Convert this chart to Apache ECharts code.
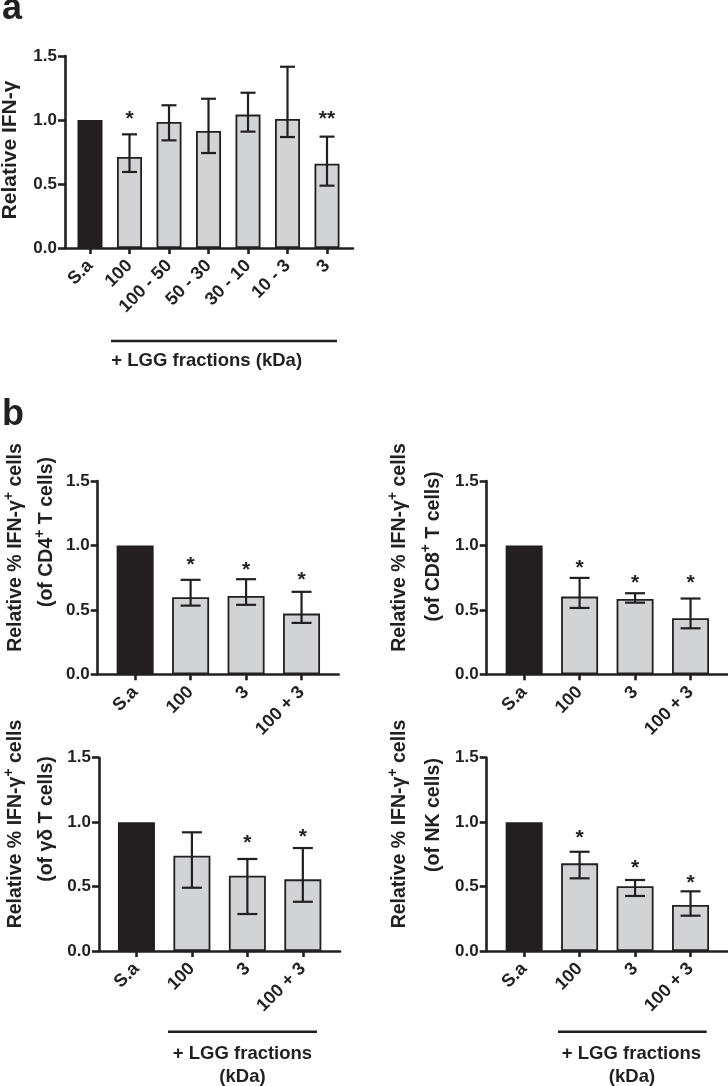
<!DOCTYPE html>
<html><head><meta charset="utf-8">
<script src="https://cdn.jsdelivr.net/npm/echarts@6/dist/echarts.min.js"></script>
<style>html,body{margin:0;padding:0;background:#fff}#c{width:728px;height:1086px}</style>
</head><body><div id="c"></div>
<script>
// ---------- data ----------
const catsA = ['S.a', '100', '100 - 50', '50 - 30', '30 - 10', '10 - 3', '3'];
const meanA = [1.0, 0.711, 0.984, 0.914, 1.042, 1.008, 0.659];
const lowA  = [null, 0.594, 0.841, 0.742, 0.909, 0.867, 0.487];
const highA = [null, 0.888, 1.115, 1.166, 1.213, 1.416, 0.870];
const sigA  = ['', '*', '', '', '', '', '**'];
const sigYA = [null, 1.055, null, null, null, null, 1.055];

const catsB = ['S.a', '100', '3', '100 + 3'];
const meanCD4 = [1.0, 0.598, 0.608, 0.471];
const lowCD4  = [null, 0.533, 0.539, 0.399];
const highCD4 = [null, 0.733, 0.738, 0.640];
const sigCD4  = ['', '*', '*', '*'];
const sigYCD4 = [null, 0.894, 0.855, 0.779];

const meanCD8 = [1.0, 0.603, 0.585, 0.435];
const lowCD8  = [null, 0.515, 0.556, 0.357];
const highCD8 = [null, 0.748, 0.629, 0.588];
const sigCD8  = ['', '*', '*', '*'];
const sigYCD8 = [null, 0.870, 0.751, 0.751];

const meanGD = [1.0, 0.739, 0.584, 0.556];
const lowGD  = [null, 0.491, 0.287, 0.382];
const highGD = [null, 0.921, 0.714, 0.799];
const sigGD  = ['', '', '*', '*'];
const sigYGD = [null, null, 0.882, 0.926];

const meanNK = [1.0, 0.680, 0.502, 0.357];
const lowNK  = [null, 0.564, 0.427, 0.274];
const highNK = [null, 0.770, 0.551, 0.463];
const sigNK  = ['', '*', '*', '*'];
const sigYNK = [null, 0.918, 0.690, 0.576];

// ---------- style ----------
const FONT = '"Liberation Sans", Arial, Helvetica, sans-serif';
const INK = '#231f20';
const GREY = '#d1d3d4';

const panels = [
  {cats: catsA, mean: meanA, low: lowA, high: highA, sig: sigA, sigY: sigYA,
   grid: {left: 65, top: 56, width: 288, height: 192}, xmin: -0.633, xmax: 6.658, barW: 25, cap: 15},
  {cats: catsB, mean: meanCD4, low: lowCD4, high: highCD4, sig: sigCD4, sigY: sigYCD4,
   grid: {left: 97.7, top: 481, width: 241, height: 193.3}, xmin: -0.675, xmax: 3.67, barW: 37, cap: 20},
  {cats: catsB, mean: meanCD8, low: lowCD8, high: highCD8, sig: sigCD8, sigY: sigYCD8,
   grid: {left: 486.7, top: 481, width: 241, height: 193.3}, xmin: -0.675, xmax: 3.67, barW: 37, cap: 20},
  {cats: catsB, mean: meanGD, low: lowGD, high: highGD, sig: sigGD, sigY: sigYGD,
   grid: {left: 99, top: 757.7, width: 241, height: 193.3}, xmin: -0.675, xmax: 3.67, barW: 37, cap: 20},
  {cats: catsB, mean: meanNK, low: lowNK, high: highNK, sig: sigNK, sigY: sigYNK,
   grid: {left: 486.7, top: 757.7, width: 241, height: 193.3}, xmin: -0.675, xmax: 3.67, barW: 37, cap: 20}
];

const grids = [], xAxes = [], yAxes = [], series = [];
panels.forEach((p, i) => {
  const idx = p.cats.map((c, k) => k);
  grids.push(Object.assign({containLabel: false, outerBoundsMode: 'none'}, p.grid));
  xAxes.push({
    gridIndex: i, type: 'value', min: p.xmin, max: p.xmax,
    axisLine: {show: true, onZero: false, lineStyle: {color: INK, width: 2.6}},
    axisTick: {show: true, length: 6, customValues: idx, lineStyle: {color: INK, width: 2.6}},
    axisLabel: {customValues: idx, rotate: 45, margin: 15, formatter: v => p.cats[Math.round(v)],
      color: INK, fontFamily: FONT, fontWeight: 'bold', fontSize: 18},
    splitLine: {show: false}
  });
  yAxes.push({
    gridIndex: i, type: 'value', min: 0, max: 1.5, interval: 0.5,
    axisLine: {show: true, onZero: false, lineStyle: {color: INK, width: 2.6}},
    axisTick: {show: true, length: 7, lineStyle: {color: INK, width: 2.6}},
    axisLabel: {color: INK, fontFamily: FONT, fontWeight: 'bold', fontSize: 17, margin: 8,
      formatter: v => v.toFixed(1)},
    splitLine: {show: false}
  });
  series.push({
    type: 'bar', xAxisIndex: i, yAxisIndex: i, barWidth: p.barW, z: 2,
    data: p.mean.map((v, k) => [k, v]),
    itemStyle: {color: prm => prm.dataIndex === 0 ? INK : GREY, borderColor: INK, borderWidth: 1.8},
    silent: true, animation: false
  });
  const errData = [];
  p.low.forEach((l, k) => { if (l != null) errData.push([k, l, p.high[k]]); });
  series.push({
    type: 'custom', xAxisIndex: i, yAxisIndex: i, z: 5, silent: true, animation: false,
    data: errData, encode: {x: 0, y: [1, 2]},
    renderItem: (params, api) => {
      const x = api.value(0), lo = api.value(1), hi = api.value(2);
      const a = api.coord([x, hi]), b = api.coord([x, lo]);
      const h = p.cap / 2;
      const st = {stroke: INK, lineWidth: 2.2};
      return {type: 'group', children: [
        {type: 'line', shape: {x1: a[0], y1: a[1], x2: b[0], y2: b[1]}, style: st},
        {type: 'line', shape: {x1: a[0] - h, y1: a[1], x2: a[0] + h, y2: a[1]}, style: st},
        {type: 'line', shape: {x1: b[0] - h, y1: b[1], x2: b[0] + h, y2: b[1]}, style: st}
      ]};
    }
  });
  const sigData = [];
  p.sig.forEach((s, k) => { if (s) sigData.push([k, p.sigY[k]]); });
  series.push({
    type: 'custom', xAxisIndex: i, yAxisIndex: i, z: 6, silent: true, animation: false,
    data: sigData, encode: {x: 0, y: 1},
    renderItem: (params, api) => {
      const k = api.value(0);
      const pt = api.coord([k, api.value(1)]);
      return {type: 'text', x: pt[0], y: pt[1] + 6,
        style: {text: p.sig[k], fill: INK, font: 'bold 21px ' + FONT, align: 'center', verticalAlign: 'middle'}};
    }
  });
});

// ---------- texts ----------
const supRich = {
  n: {fontFamily: FONT, fontWeight: 'bold', fontSize: 19.5, color: INK, lineHeight: 24, verticalAlign: 'bottom'},
  s: {fontFamily: FONT, fontWeight: 'bold', fontSize: 14, color: INK, lineHeight: 24, verticalAlign: 'top'}
};
function vText(x, y, text, size, rich) {
  const el = {type: 'text', x: x, y: y, rotation: Math.PI / 2,
    style: {text: text, fill: INK, align: 'center', verticalAlign: 'middle',
      font: 'bold ' + size + 'px ' + FONT}};
  if (rich) el.style.rich = rich;
  return el;
}
function hText(x, y, text, size, align) {
  return {type: 'text', x: x, y: y,
    style: {text: text, fill: INK, align: align || 'center', verticalAlign: 'middle', font: 'bold ' + size + 'px ' + FONT}};
}
function hLine(x1, x2, y) {
  return {type: 'line', shape: {x1: x1, y1: y, x2: x2, y2: y}, style: {stroke: INK, lineWidth: 2.6}};
}
const line1 = '{n|Relative % IFN-γ}{s|+}{n| cells}';
const graphic = [
  hText(2, 9, 'a', 36, 'left'),
  hText(2, 415, 'b', 36, 'left'),
  vText(10, 150, 'Relative IFN-γ', 21),
  hLine(111, 337, 341),
  hText(206.7, 361, '+ LGG fractions (kDa)', 18.5),
  // CD4
  vText(14, 547.5, line1, 19.5, supRich),
  vText(45, 532, '{n|(of CD4}{s|+}{n| T cells)}', 19.5, supRich),
  // CD8
  vText(398, 547.5, line1, 19.5, supRich),
  vText(431.5, 546.5, '{n|(of CD8}{s|+}{n| T cells)}', 19.5, supRich),
  // gamma delta
  vText(14, 824, line1, 19.5, supRich),
  vText(45, 819, '{n|(of γδ T cells)}', 19.5, supRich),
  // NK
  vText(398, 824, line1, 19.5, supRich),
  vText(431.5, 815, '{n|(of NK cells)}', 19.5, supRich),
  hLine(168, 317, 1031.7),
  hText(242.5, 1054, '+ LGG fractions', 18.5),
  hText(242.5, 1077, '(kDa)', 18.5),
  hLine(558, 706.7, 1031.7),
  hText(631.5, 1054, '+ LGG fractions', 18.5),
  hText(632, 1077, '(kDa)', 18.5)
];

const chart = echarts.init(document.getElementById('c'), null, {renderer: 'canvas'});
chart.setOption({
  animation: false,
  backgroundColor: '#fff',
  grid: grids, xAxis: xAxes, yAxis: yAxes, series: series, graphic: graphic
});
</script>
</body></html>
